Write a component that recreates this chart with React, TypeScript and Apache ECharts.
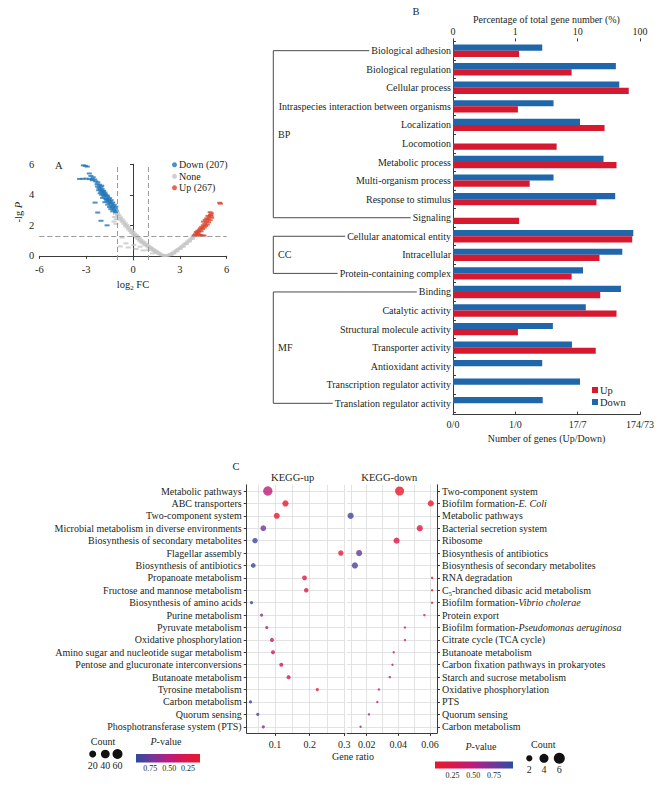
import React, { useEffect, useRef } from 'react';
import * as echarts from 'echarts';

const FONT = '"Liberation Serif", "Times New Roman", serif';
const INK = '#231f20';
const AXIS = '#3a3a3a';
const GRIDC = '#dcdcdc';

// ---------------- Panel A : volcano ----------------
const downPts: number[][] = [
  [-3.18, 5.93], [-2.93, 5.85], [-3.05, 5.9],
  [-3.42, 5.04], [-3.2, 5.05], [-3.0, 5.06], [-2.8, 5.03], [-2.62, 5.05],
  [-2.8, 5.4], [-2.7, 5.24], [-2.55, 5.15], [-2.6, 4.95],
  [-2.45, 5.0], [-2.38, 4.88], [-2.25, 4.82], [-2.3, 4.7], [-2.15, 4.66], [-2.28, 4.55],
  [-2.05, 4.52], [-2.18, 4.45], [-1.98, 4.38], [-2.2, 4.3], [-1.88, 4.26], [-2.05, 4.2],
  [-1.92, 4.12], [-1.78, 4.06], [-2.0, 4.0], [-1.72, 3.96], [-1.86, 3.9], [-1.62, 3.86],
  [-1.95, 3.8], [-1.75, 3.75], [-1.56, 3.7], [-1.68, 3.62], [-1.46, 3.56], [-1.8, 3.52],
  [-1.52, 3.46], [-1.36, 3.42], [-1.62, 3.36], [-1.42, 3.31], [-1.26, 3.26], [-1.5, 3.2],
  [-1.32, 3.16], [-1.16, 3.12], [-1.42, 3.06], [-1.22, 3.02], [-1.08, 2.97], [-1.3, 2.92],
  [-1.12, 2.86], [-2.1, 4.35], [-1.95, 4.25], [-1.8, 4.15], [-1.65, 3.95], [-1.5, 3.78],
  [-1.4, 3.65], [-1.3, 3.5], [-1.2, 3.35], [-1.1, 3.22], [-1.55, 3.58], [-1.7, 3.72],
  [-1.85, 3.98], [-2.1, 4.1], [-2.0, 4.6],
  [-2.43, 3.49], [-2.26, 2.84], [-2.05, 2.3], [-1.66, 2.0],
];
const nonePts: number[][] = [
  [-1.12, 2.75], [-1.18, 2.55], [-1.08, 2.4], [-1.22, 2.25], [-1.1, 2.1], [-1.04, 2.9],
  [-1.0, 2.82], [-0.98, 2.68], [-0.9, 2.66], [-0.88, 2.5], [-0.8, 2.52], [-0.78, 2.36],
  [-0.7, 2.4], [-0.68, 2.24], [-0.6, 2.26], [-0.58, 2.1], [-0.5, 2.14], [-0.48, 1.97],
  [-0.4, 2.02], [-0.38, 1.86], [-0.3, 1.9], [-0.28, 1.74], [-0.2, 1.76], [-0.18, 1.62],
  [-0.1, 1.66], [-0.08, 1.5], [0.0, 1.56], [0.02, 1.4], [0.1, 1.46], [0.12, 1.3],
  [0.2, 1.36], [0.22, 1.2], [0.3, 1.26], [0.32, 1.1], [0.4, 1.16], [0.42, 1.0],
  [0.5, 1.06], [0.52, 0.9], [0.6, 0.96], [0.62, 0.84], [0.7, 0.9], [0.72, 0.75],
  [0.8, 0.8], [0.82, 0.68], [0.9, 0.72], [0.92, 0.62], [1.0, 0.65], [1.02, 0.55],
  [1.1, 0.58], [1.12, 0.48], [1.2, 0.5], [1.22, 0.42], [1.3, 0.43], [1.32, 0.35],
  [1.4, 0.36], [1.42, 0.28], [1.5, 0.3], [1.52, 0.22], [1.6, 0.22], [1.62, 0.15],
  [1.7, 0.16], [1.72, 0.1], [1.8, 0.1], [1.82, 0.05], [1.9, 0.06], [1.92, 0.02],
  [2.0, 0.03], [2.05, 0.0], [2.12, 0.02], [2.2, 0.05], [2.25, 0.02], [2.32, 0.08],
  [2.4, 0.12], [2.45, 0.06], [2.52, 0.18], [2.6, 0.22], [2.62, 0.15], [2.7, 0.3],
  [2.8, 0.38], [2.82, 0.3], [2.9, 0.45], [3.0, 0.52], [3.02, 0.45], [3.1, 0.6],
  [3.2, 0.68], [3.22, 0.6], [3.3, 0.76], [3.4, 0.85], [3.42, 0.78], [3.5, 0.94],
  [3.6, 1.02], [3.62, 0.95], [3.7, 1.1], [3.8, 1.2], [3.82, 1.12], [3.9, 1.27],
  [-0.82, 0.62], [-0.45, 0.82], [-0.3, 0.55], [0.05, 0.72], [0.2, 0.45], [0.45, 0.6],
  [0.65, 0.36], [0.98, 0.38], [1.25, 0.16], [-0.7, 1.2],
];
const upPts: number[][] = [
  [3.92, 1.35], [4.0, 1.42], [4.08, 1.32], [4.12, 1.5], [4.2, 1.42], [4.3, 1.36],
  [4.42, 1.34], [4.55, 1.33], [4.05, 1.56], [4.15, 1.64], [4.22, 1.58], [4.25, 1.72],
  [4.32, 1.8], [4.36, 1.62], [4.4, 1.9], [4.46, 1.76], [4.5, 2.0], [4.56, 1.86],
  [4.6, 2.1], [4.66, 1.96], [4.7, 2.24], [4.76, 2.06], [4.8, 2.38], [4.84, 2.2],
  [4.88, 2.52], [4.94, 2.34], [4.96, 2.68], [5.02, 2.78], [4.94, 2.86], [5.04, 2.5],
  [4.72, 2.46], [4.52, 2.24], [4.62, 2.36], [4.8, 2.62], [5.0, 2.62],
  [5.55, 3.48], [5.6, 3.42],
];
const volcanoNames = ['Down (207)', 'None', 'Up (267)'];
const volcanoYTicks = [0, 2, 4, 6];
const fcCut = [-1, 1];
const pCut = 1.3;

// ---------------- Panel B : GO ----------------
const goTerms = [
  'Biological adhesion', 'Biological regulation', 'Cellular process',
  'Intraspecies interaction between organisms', 'Localization', 'Locomotion',
  'Metabolic process', 'Multi-organism process', 'Response to stimulus', 'Signaling',
  'Cellular anatomical entity', 'Intracellular', 'Protein-containing complex',
  'Binding', 'Catalytic activity', 'Structural molecule activity', 'Transporter activity',
  'Antioxidant activity', 'Transcription regulator activity', 'Translation regulator activity',
];
const goUpPct: (number | null)[] = [
  1.15, 8.0, 66, 1.1, 27, 4.6, 42, 1.7, 20, 1.15,
  75, 22.4, 8.0, 23, 42, 1.1, 19.5, null, null, null,
];
const goDownPct: (number | null)[] = [
  2.7, 41, 46.5, 4.1, 10.9, null, 26, 4.1, 40, null,
  78, 52, 12.2, 49.5, 13.5, 4.0, 8.1, 2.7, 10.9, 2.75,
];
const goGroups = [
  { name: 'BP', first: 0, last: 9 },
  { name: 'CC', first: 10, last: 12 },
  { name: 'MF', first: 13, last: 19 },
];
const goTopTicks = ['0', '1', '10', '100'];
const goBottomTicks = ['0/0', '1/0', '17/7', '174/73'];

// ---------------- Panel C : KEGG ----------------
const keggUpTerms = [
  'Metabolic pathways', 'ABC transporters', 'Two-component system',
  'Microbial metabolism in diverse environments', 'Biosynthesis of secondary metabolites',
  'Flagellar assembly', 'Biosynthesis of antibiotics', 'Propanoate metabolism',
  'Fructose and mannose metabolism', 'Biosynthesis of amino acids', 'Purine metabolism',
  'Pyruvate metabolism', 'Oxidative phosphorylation', 'Amino sugar and nucleotide sugar metabolism',
  'Pentose and glucuronate interconversions', 'Butanoate metabolism', 'Tyrosine metabolism',
  'Carbon metabolism', 'Quorum sensing', 'Phosphotransferase system (PTS)',
];
const keggUpRatio = [0.079, 0.13, 0.105, 0.066, 0.042, 0.29, 0.037, 0.185, 0.19, 0.032,
  0.061, 0.076, 0.091, 0.094, 0.118, 0.139, 0.222, 0.029, 0.05, 0.066];
const keggUpCount = [50, 13, 11, 9, 7, 7, 4, 4, 3, 1, 1, 1, 2, 2, 2, 2, 1, 1, 1, 1];
const keggUpP = [0.47, 0.1, 0.12, 0.73, 0.9, 0.14, 0.91, 0.2, 0.2, 0.93,
  0.7, 0.6, 0.4, 0.4, 0.34, 0.28, 0.14, 0.92, 0.8, 0.7];

const keggDownTerms = [
  'Two-component system', 'Biofilm formation-E. Coli', 'Metabolic pathways',
  'Bacterial secretion system', 'Ribosome', 'Biosynthesis of antibiotics',
  'Biosynthesis of secondary metabolites', 'RNA degradation',
  'C5-branched dibasic acid metabolism', 'Biofilm formation-Vibrio cholerae', 'Protein export',
  'Biofilm formation-Pseudomonas aeruginosa', 'Citrate cycle (TCA cycle)', 'Butanoate metabolism',
  'Carbon fixation pathways in prokaryotes', 'Starch and sucrose metabolism',
  'Oxidative phosphorylation', 'PTS', 'Quorum sensing', 'Carbon metabolism',
];
const keggDownRatio = [0.0408, 0.0606, 0.0098, 0.0536, 0.0389, 0.0152, 0.0125, 0.0614,
  0.0614, 0.0614, 0.0565, 0.0442, 0.0442, 0.0371, 0.0363, 0.0346, 0.0277, 0.0267, 0.0214, 0.0161];
const keggDownCount = [4, 2, 2, 2, 2, 2, 2, 1, 1, 1, 1, 1, 1, 1, 1, 1, 1, 1, 1, 1];
const keggDownP = [0.04, 0.05, 0.93, 0.2, 0.24, 0.82, 0.88, 0.22, 0.24, 0.24,
  0.28, 0.32, 0.32, 0.38, 0.38, 0.42, 0.48, 0.48, 0.55, 0.6];

const upXTicks = [0.1, 0.2, 0.3];
const upXGrid = [0.05, 0.1, 0.15, 0.2, 0.25, 0.3];
const downXTicks = [0.02, 0.04, 0.06];
const downXGrid = [0.01, 0.02, 0.03, 0.04, 0.05, 0.06];
const countBreaksUp = [20, 40, 60];
const countBreaksDown = [2, 4, 6];
const pBreaks = [0.25, 0.5, 0.75];
const pRangeUp = [0.09, 0.94];
const pRangeDown = [0.04, 0.98];
const P_COLORS = ['#e8192c', '#d8174f', '#b81c80', '#75359a', '#2c4c9c'];

const sizeUp = (c: number) => 3.2 + 6.9 * Math.sqrt(Math.max(0, c - 1) / 61);
const sizeDown = (c: number) => 2.4 + 8.6 * Math.sqrt(Math.max(0, c - 1) / 5);

const LBL = 10;

function downLabel(v: string): string {
  if (v.startsWith('C5-')) return 'C{s|5}' + v.slice(2);
  const pre = 'Biofilm formation-';
  if (v.startsWith(pre)) return pre + '{i|' + v.slice(pre.length) + '}';
  return v;
}

export default function App() {
  const ref = useRef<HTMLDivElement>(null);
  useEffect(() => {
    const chart = echarts.init(ref.current!, null, { renderer: 'svg' });
    const txt = { fontFamily: FONT, color: INK };
    const axisLineStyle = { color: AXIS, width: 1 };

    // row-centre grids for the KEGG horizontal guide lines (band = (733-484.8)/20)
    const cTop = 484.8, cBot = 733, band = (cBot - cTop) / keggUpTerms.length;
    const rowTop = cTop + band / 2, rowBot = cBot - band / 2;

    const rowAxis = (gridIndex: number, n: number) => ({
      gridIndex, type: 'value', min: 0, max: n - 1, interval: 1, inverse: true,
      axisLine: { show: false }, axisTick: { show: false }, axisLabel: { show: false },
      splitLine: { show: true, lineStyle: { color: GRIDC, width: 0.8 } },
    });
    const hiddenX = (gridIndex: number) => ({
      gridIndex, type: 'value', min: 0, max: 1, show: false, splitLine: { show: false },
    });

    const option: any = {
      animation: false,
      backgroundColor: '#fff',
      textStyle: { fontFamily: FONT },
      grid: [
        { left: 39.3, right: 660 - 226.7, top: 164.3, bottom: 792 - 260 },
        { left: 453, right: 20, top: 41.4, bottom: 792 - 412.6 },
        { left: 246.7, right: 660 - 345, top: cTop, bottom: 792 - cBot },
        { left: 347, right: 660 - 437, top: cTop, bottom: 792 - cBot },
        { left: 246.7, right: 660 - 345, top: rowTop, bottom: 792 - rowBot },
        { left: 347, right: 660 - 437, top: rowTop, bottom: 792 - rowBot },
      ],
      legend: [
        {
          data: volcanoNames.map((n) => ({ name: n, icon: 'circle' })),
          orient: 'vertical', left: 172, top: 159, itemWidth: 5, itemHeight: 5, itemGap: 0,
          padding: 0, selectedMode: false,
          textStyle: { ...txt, fontSize: 10, lineHeight: 11.5, padding: [0, 0, 0, -3] },
        },
        {
          data: ['Up', 'Down'], icon: 'rect',
          orient: 'vertical', left: 592, top: 384, itemWidth: 6, itemHeight: 6, itemGap: 0,
          padding: 0, selectedMode: false,
          textStyle: { ...txt, fontSize: 10.5, lineHeight: 12, padding: [0, 0, 0, -3] },
        },
      ],
      xAxis: [
        {
          gridIndex: 0, type: 'value', min: -6, max: 6, interval: 3,
          axisLine: { show: true, lineStyle: axisLineStyle },
          axisTick: { show: true, length: 3, lineStyle: axisLineStyle },
          axisLabel: { ...txt, fontSize: 10.5, margin: 4 },
          splitLine: { show: false },
          name: 'log{s|2} FC', nameLocation: 'middle', nameGap: 17,
          nameTextStyle: {
            ...txt, fontSize: 10.5, lineHeight: 14,
            rich: { s: { fontFamily: FONT, color: INK, fontSize: 7, verticalAlign: 'bottom', lineHeight: 14 } },
          },
        },
        {
          gridIndex: 1, type: 'value', min: 0, max: 3, interval: 1, position: 'top',
          axisLine: { show: false },
          axisTick: { show: true, length: 3, lineStyle: axisLineStyle },
          axisLabel: { ...txt, fontSize: 10, margin: 5, formatter: (v: number) => goTopTicks[Math.round(v)] },
          splitLine: { show: false },
          name: 'Percentage of total gene number (%)', nameLocation: 'middle', nameGap: 17,
          nameTextStyle: { ...txt, fontSize: 10 },
        },
        {
          gridIndex: 1, type: 'value', min: 0, max: 3, interval: 1, position: 'bottom', offset: 2,
          axisLine: { show: true, lineStyle: axisLineStyle },
          axisTick: { show: true, inside: true, length: 3, lineStyle: axisLineStyle },
          axisLabel: { ...txt, fontSize: 10, margin: 5, formatter: (v: number) => goBottomTicks[Math.round(v)] },
          splitLine: { show: false },
          name: 'Number of genes (Up/Down)', nameLocation: 'middle', nameGap: 19,
          nameTextStyle: { ...txt, fontSize: 10 },
        },
        {
          gridIndex: 2, type: 'value', min: 0.018, max: 0.302,
          axisLine: { show: true, lineStyle: axisLineStyle },
          axisTick: { show: true, length: 3, customValues: upXTicks, lineStyle: axisLineStyle },
          axisLabel: { ...txt, fontSize: 10, margin: 6, customValues: upXTicks },
          splitLine: { show: false },
        },
        {
          gridIndex: 3, type: 'value', min: 0.0075, max: 0.0645,
          axisLine: { show: true, lineStyle: axisLineStyle },
          axisTick: { show: true, length: 3, customValues: downXTicks, lineStyle: axisLineStyle },
          axisLabel: { ...txt, fontSize: 10, margin: 6, customValues: downXTicks },
          splitLine: { show: false },
        },
        hiddenX(4),
        hiddenX(5),
      ],
      yAxis: [
        {
          gridIndex: 0, type: 'value', min: -0.27, max: 6,
          axisLine: { show: true, lineStyle: axisLineStyle },
          axisTick: { show: true, length: 3, customValues: volcanoYTicks, lineStyle: axisLineStyle },
          axisLabel: { ...txt, fontSize: 10.5, margin: 5, customValues: volcanoYTicks },
          splitLine: { show: false },
          name: '-lg {i|P}', nameLocation: 'middle', nameRotate: 90, nameGap: 15,
          nameTextStyle: {
            ...txt, fontSize: 10.5,
            rich: { i: { fontFamily: FONT, color: INK, fontSize: 10.5, fontStyle: 'italic' } },
          },
        },
        {
          gridIndex: 1, type: 'category', data: goTerms, inverse: true,
          axisLine: { show: true, lineStyle: axisLineStyle },
          axisTick: { show: true, inside: true, length: 3, lineStyle: axisLineStyle },
          axisLabel: { ...txt, fontSize: LBL, margin: 2, interval: 0 },
          splitLine: { show: false },
        },
        {
          gridIndex: 2, type: 'category', data: keggUpTerms, inverse: true,
          axisLine: { show: true, lineStyle: axisLineStyle },
          axisTick: { show: true, length: 3, alignWithLabel: true, interval: 0, lineStyle: axisLineStyle },
          axisLabel: { ...txt, fontSize: LBL, margin: 5, interval: 0 },
          splitLine: { show: false },
        },
        {
          gridIndex: 3, type: 'category', data: keggDownTerms, inverse: true, position: 'right',
          axisLine: { show: true, lineStyle: axisLineStyle },
          axisTick: { show: true, length: 3, alignWithLabel: true, interval: 0, lineStyle: axisLineStyle },
          axisLabel: {
            ...txt, fontSize: LBL, margin: 5, interval: 0, formatter: downLabel,
            rich: {
              i: { fontFamily: FONT, color: INK, fontSize: LBL, fontStyle: 'italic' },
              s: { fontFamily: FONT, color: INK, fontSize: 6.5, verticalAlign: 'bottom', lineHeight: 13 },
            },
          },
          splitLine: { show: false },
        },
        rowAxis(4, keggUpTerms.length),
        rowAxis(5, keggDownTerms.length),
      ],
      visualMap: [
        {
          type: 'continuous', show: false, seriesIndex: 5, dimension: 2,
          min: pRangeUp[0], max: pRangeUp[1], inRange: { color: P_COLORS },
        },
        {
          type: 'continuous', show: false, seriesIndex: 6, dimension: 2,
          min: pRangeDown[0], max: pRangeDown[1], inRange: { color: P_COLORS },
        },
      ],
      series: [
        {
          name: 'None', type: 'scatter', xAxisIndex: 0, yAxisIndex: 0, data: nonePts,
          symbol: 'rect', symbolSize: [5, 2], itemStyle: { color: '#c6c6c6' }, z: 2,
          markLine: {
            silent: true, symbol: 'none', label: { show: false }, z: 3,
            lineStyle: { color: '#9a9a9a', type: [5, 3], width: 1 },
            data: [...fcCut.map((v) => ({ xAxis: v })), { yAxis: pCut }],
          },
        },
        {
          name: 'Down (207)', type: 'scatter', xAxisIndex: 0, yAxisIndex: 0, data: downPts,
          symbol: 'rect', symbolSize: [5, 2], itemStyle: { color: '#1f76b6' }, z: 2,
        },
        {
          name: 'Up (267)', type: 'scatter', xAxisIndex: 0, yAxisIndex: 0, data: upPts,
          symbol: 'rect', symbolSize: [5, 2], itemStyle: { color: '#d8452a' }, z: 2,
        },
        {
          name: 'Down', type: 'bar', xAxisIndex: 1, yAxisIndex: 1,
          data: goDownPct.map((p) => (p == null ? null : Math.log10(p) + 1)),
          barWidth: 6.2, barGap: '0%', itemStyle: { color: '#1f67aa' },
        },
        {
          name: 'Up', type: 'bar', xAxisIndex: 1, yAxisIndex: 1,
          data: goUpPct.map((p) => (p == null ? null : Math.log10(p) + 1)),
          barWidth: 6.2, barGap: '0%', itemStyle: { color: '#d7192f' },
        },
        {
          name: 'KEGG-up', type: 'scatter', xAxisIndex: 3, yAxisIndex: 2,
          data: keggUpTerms.map((t, i) => [keggUpRatio[i], t, keggUpP[i], keggUpCount[i]]),
          symbolSize: (v: any) => sizeUp(v[3]), z: 3,
          markLine: {
            silent: true, symbol: 'none', label: { show: false }, z: 1,
            lineStyle: { color: GRIDC, type: 'solid', width: 0.8 },
            data: upXGrid.map((v) => ({ xAxis: v })),
          },
        },
        {
          name: 'KEGG-down', type: 'scatter', xAxisIndex: 4, yAxisIndex: 3,
          data: keggDownTerms.map((t, i) => [keggDownRatio[i], t, keggDownP[i], keggDownCount[i]]),
          symbolSize: (v: any) => sizeDown(v[3]), z: 3,
          markLine: {
            silent: true, symbol: 'none', label: { show: false }, z: 1,
            lineStyle: { color: GRIDC, type: 'solid', width: 0.8 },
            data: downXGrid.map((v) => ({ xAxis: v })),
          },
        },
      ],
    };
    chart.setOption(option);

    // ---------- graphics ----------
    const g: any[] = [];
    const text = (t: string, x: number, y: number, fs = 10, align = 'center', extra: any = {}) =>
      g.push({
        type: 'text', x, y, silent: true,
        style: { text: t, fill: INK, fontFamily: FONT, fontSize: fs, align, verticalAlign: 'middle', ...extra },
      });
    text('A', 55, 165, 10.5, 'left');
    text('B', 416, 11, 10.5, 'center');
    text('C', 236, 466, 10.5, 'center');

    // GO brackets
    const ctx = document.createElement('canvas').getContext('2d')!;
    ctx.font = `${LBL}px "Liberation Serif"`;
    const labelRight = 453 - 2;
    const bx = 273.3;
    goGroups.forEach((grp) => {
      const y1 = chart.convertToPixel({ yAxisIndex: 1 }, goTerms[grp.first]) as unknown as number;
      const y2 = chart.convertToPixel({ yAxisIndex: 1 }, goTerms[grp.last]) as unknown as number;
      const x1 = labelRight - ctx.measureText(goTerms[grp.first]).width - 2;
      const x2 = labelRight - ctx.measureText(goTerms[grp.last]).width - 2;
      g.push({
        type: 'polyline', silent: true,
        shape: { points: [[x1, y1], [bx, y1], [bx, y2], [x2, y2]] },
        style: { stroke: '#4a4a4a', lineWidth: 1, fill: 'none' },
      });
      text(grp.name, 278, (y1 + y2) / 2, 10, 'left');
    });

    // KEGG titles
    text('KEGG-up', 292.7, 477, 10.5);
    text('KEGG-down', 389.3, 477, 10.5);
    text('Gene ratio', 353, 756, 10);

    const italicP = { rich: { i: { fontFamily: FONT, fontSize: 10, fontStyle: 'italic', fill: INK } } };

    // Left legends (KEGG-up)
    text('Count', 103, 741, 10);
    const lx = [92.7, 105.3, 117.5];
    countBreaksUp.forEach((c, i) => {
      const d = sizeUp(c);
      g.push({ type: 'circle', silent: true, shape: { cx: lx[i], cy: 754, r: d / 2 }, style: { fill: '#111' } });
      text(String(c), lx[i], 765.5, 10);
    });
    text('{i|P}-value', 166, 741, 10, 'center', italicP);
    const cbL = { x: 136, y: 754, w: 64, h: 8.5 };
    const stopsRev = P_COLORS.slice().reverse().map((c, i, a) => ({ offset: i / (a.length - 1), color: c }));
    g.push({
      type: 'rect', silent: true, shape: { x: cbL.x, y: cbL.y, width: cbL.w, height: cbL.h },
      style: { fill: { type: 'linear', x: 0, y: 0, x2: 1, y2: 0, colorStops: stopsRev } },
    });
    pBreaks.forEach((p) => {
      const x = cbL.x + ((pRangeUp[1] - p) / (pRangeUp[1] - pRangeUp[0])) * cbL.w;
      text(p.toFixed(2), x, 768, 8);
    });

    // Right legends (KEGG-down)
    text('{i|P}-value', 481, 746, 10, 'center', italicP);
    const cbR = { x: 435, y: 761.5, w: 78, h: 7 };
    const stops = P_COLORS.map((c, i, a) => ({ offset: i / (a.length - 1), color: c }));
    g.push({
      type: 'rect', silent: true, shape: { x: cbR.x, y: cbR.y, width: cbR.w, height: cbR.h },
      style: { fill: { type: 'linear', x: 0, y: 0, x2: 1, y2: 0, colorStops: stops } },
    });
    pBreaks.forEach((p) => {
      const x = cbR.x + ((p - pRangeDown[0]) / (pRangeDown[1] - pRangeDown[0])) * cbR.w;
      text(p.toFixed(2), x, 775, 8);
    });
    text('Count', 543.3, 744.5, 10);
    const rx = [529.3, 544, 559.3];
    countBreaksDown.forEach((c, i) => {
      const d = sizeDown(c);
      g.push({ type: 'circle', silent: true, shape: { cx: rx[i], cy: 758.3, r: d / 2 }, style: { fill: '#111' } });
      text(String(c), rx[i], 769.5, 10);
    });

    chart.setOption({ graphic: g });
    return () => chart.dispose();
  }, []);
  return (
    <div
      ref={ref}
      style={{ position: 'absolute', left: 0, top: 0, width: 660, height: 792, background: '#fff' }}
    />
  );
}
